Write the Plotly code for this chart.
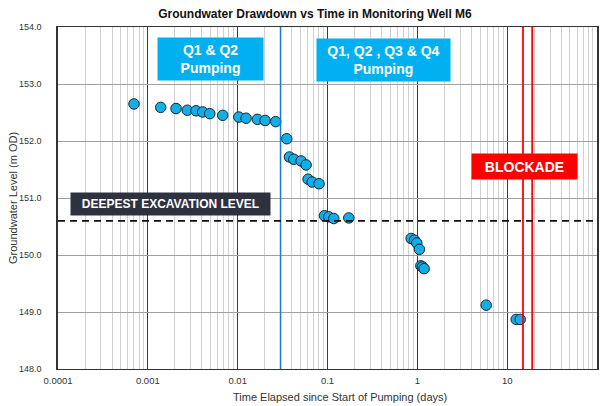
import plotly.graph_objects as go

# --- data -------------------------------------------------------------
time_days = [0.000701, 0.00139, 0.00206, 0.00275, 0.00344, 0.00408, 0.00489, 0.00682,
             0.0103, 0.0124, 0.0166, 0.0202, 0.0265, 0.0352, 0.0377, 0.0422, 0.0508,
             0.0578, 0.0608, 0.0675, 0.0805, 0.0925, 0.1033, 0.1175, 0.1726,
             0.853, 0.929, 0.986, 1.055, 1.094, 1.14, 1.19, 5.84, 12.6, 13.97]
level_mod = [152.65, 152.59, 152.57, 152.54, 152.53, 152.51, 152.48, 152.45,
             152.42, 152.40, 152.38, 152.36, 152.34, 152.04, 151.72, 151.68, 151.65,
             151.58, 151.33, 151.28, 151.25, 150.69, 150.67, 150.64, 150.65,
             150.29, 150.26, 150.21, 150.10, 149.81, 149.79, 149.76, 149.12, 148.87, 148.87]

excavation_level = 150.6
q3q4_start = 0.03
blockade_lines = [15, 19]

x_tickvals = [0.0001, 0.001, 0.01, 0.1, 1, 10, 100]
x_ticktext = ["0.0001", "0.001", "0.01", "0.1", "1", "10", "100"]
y_tickvals = [148, 149, 150, 151, 152, 153, 154]
y_ticktext = ["148.0", "149.0", "150.0", "151.0", "152.0", "153.0", "154.0"]

FONT = "Liberation Sans, Arial, sans-serif"

fig = go.Figure()

fig.add_trace(go.Scatter(
    x=time_days, y=level_mod, mode="markers",
    marker=dict(size=10.5, color="#12aee8", line=dict(color="#1c2530", width=1)),
    showlegend=False, cliponaxis=False, hoverinfo="skip",
))

# vertical lines
fig.add_vline(x=q3q4_start, line=dict(color="#1a7ad4", width=1.5), layer="above")
for b in blockade_lines:
    fig.add_vline(x=b, line=dict(color="#ff0000", width=1.8), layer="above")

# excavation level
fig.add_hline(y=excavation_level, line=dict(color="#111111", width=1.8, dash="7px,5px"), layer="above")

# label boxes
def box(text, x, y, w, h, bg, size):
    fig.add_annotation(
        text=text, x=x, y=y, xref="paper", yref="paper", showarrow=False,
        xanchor="center", yanchor="middle",
        width=w, height=h, bgcolor=bg, borderpad=0,
        font=dict(family=FONT, size=size, color="white", weight="bold"),
        align="center", valign="middle",
    )

box("Q1 &amp; Q2<br>Pumping", 0.283, 0.906, 105, 42, "#00b0f0", 14)
box("Q1, Q2 , Q3 &amp; Q4<br>Pumping", 0.603, 0.904, 133, 42, "#00b0f0", 14)
box("BLOCKADE", 0.865, 0.593, 105, 25, "#ff0000", 14)
box("DEEPEST EXCAVATION LEVEL", 0.209, 0.481, 199, 22, "#2e3240", 12)

# axis titles
fig.add_annotation(text="Time Elapsed since Start of Pumping (days)", x=0.523, y=-0.082,
                   xref="paper", yref="paper", showarrow=False, xanchor="center", yanchor="middle",
                   font=dict(family=FONT, size=11, color="#333333"))
fig.add_annotation(text="Groundwater Level (m OD)", x=-0.0835, y=0.5, textangle=-90,
                   xref="paper", yref="paper", showarrow=False, xanchor="center", yanchor="middle",
                   font=dict(family=FONT, size=11, color="#333333"))

fig.update_layout(
    width=603, height=406,
    margin=dict(l=58, r=6, t=27, b=37, autoexpand=False),
    paper_bgcolor="white", plot_bgcolor="white",
    font=dict(family=FONT, size=9, color="#333333"),
    title=dict(
        text="Groundwater Drawdown vs Time in Monitoring Well M6",
        x=315 / 603, xref="container", xanchor="center",
        y=1 - 14 / 406, yref="container", yanchor="middle",
        font=dict(family=FONT, size=12, color="#111111", weight="bold"),
    ),
    xaxis=dict(
        type="log", range=[-4, 2], automargin=False,
        tickmode="array", tickvals=x_tickvals, ticktext=x_ticktext,
        showgrid=True, gridcolor="#3a3a3a", gridwidth=1,
        minor=dict(showgrid=True, gridcolor="#d0d0d0", gridwidth=1, dtick="D1"),
        showline=True, linecolor="#333333", linewidth=1.2, mirror=True,
        ticks="outside", ticklen=2, tickcolor="rgba(0,0,0,0)",
        tickfont=dict(size=9.5, color="#333333"),
        zeroline=False,
    ),
    yaxis=dict(
        range=[148, 154], automargin=False,
        tickmode="array", tickvals=y_tickvals, ticktext=y_ticktext,
        showgrid=True, gridcolor="#a0a0a0", gridwidth=1,
        showline=True, linecolor="#333333", linewidth=1.5, mirror=True,
        ticks="outside", ticklen=13, tickcolor="rgba(0,0,0,0)",
        tickfont=dict(size=9, color="#333333"),
        zeroline=False,
    ),
)

fig.write_html("out.html", config={"displayModeBar": False},
               post_script="document.body.style.margin='0px';")
